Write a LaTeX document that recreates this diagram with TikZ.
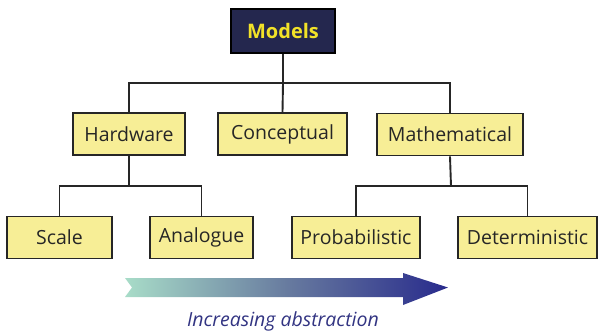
\documentclass[tikz,border=0pt]{standalone}
\usepackage{fontspec}
\setmainfont{Open Sans}
\usetikzlibrary{positioning}
\definecolor{boxfill}{RGB}{247,238,150}
\definecolor{navy}{RGB}{36,39,78}
\definecolor{titleyellow}{RGB}{242,226,40}
\definecolor{mint}{RGB}{168,220,200}
\definecolor{arrowblue}{RGB}{40,42,140}
\definecolor{textblue}{RGB}{50,52,130}
\begin{document}
\begin{tikzpicture}[x=1pt,y=-1pt,
  box/.style={draw=black!85,line width=1.9pt,fill=boxfill,rectangle,inner sep=0pt,
    minimum height=42pt,font=\fontsize{19.5}{22}\selectfont,text=black!85},
  topbox/.style={draw=black,line width=1.9pt,fill=navy,rectangle,inner sep=0pt,
    minimum height=44pt,minimum width=104pt,font=\fontsize{20}{22}\selectfont\bfseries,text=titleyellow},
  link/.style={draw=black!85,line width=1.9pt}]
\useasboundingbox (0,0) rectangle (600,335);
\node[topbox] (models) at (283,31) {Models};
\node[box,minimum width=112pt] (hw) at (129,134) {Hardware};
\node[box,minimum width=129pt] (con) at (282.5,134) {Conceptual};
\node[box,minimum width=146pt] (math) at (450,134.5) {Mathematical};
\node[box,minimum width=105pt] (scale) at (59.5,237.5) {Scale};
\node[box,minimum width=103pt] (ana) at (201.5,237.5) {Analogue};
\node[box,minimum width=128pt] (prob) at (356,237.5) {Probabilistic};
\node[box,minimum width=139pt] (det) at (527.5,237.5) {Deterministic};
\coordinate (b1) at (283,83);
\coordinate (b2) at (129,186);
\coordinate (b3) at (451,186);
\draw[link] (models.south) -- (b1);
\draw[link] (b1) -- (con.north);
\draw[link] (b1) -| (hw.north);
\draw[link] (b1) -| (math.north);
\draw[link] (hw.south) -- (b2);
\draw[link] (b2) -| (scale.north);
\draw[link] (b2) -| (ana.north);
\draw[link] (math.south) -- (b3);
\draw[link] (b3) -| (prob.north);
\draw[link] (b3) -| (det.north);
\shade[left color=mint,right color=arrowblue,middle color=arrowblue!55!mint!80!gray]
  (125,278) -- (403,278) -- (403,273) -- (448,287.5) -- (403,305) -- (403,297)
  -- (125,297) -- (132,287.5) -- cycle;
\node[text=textblue,font=\fontsize{19.5}{22}\selectfont\itshape] (lab) at (283,321) {Increasing abstraction};
\end{tikzpicture}
\end{document}
